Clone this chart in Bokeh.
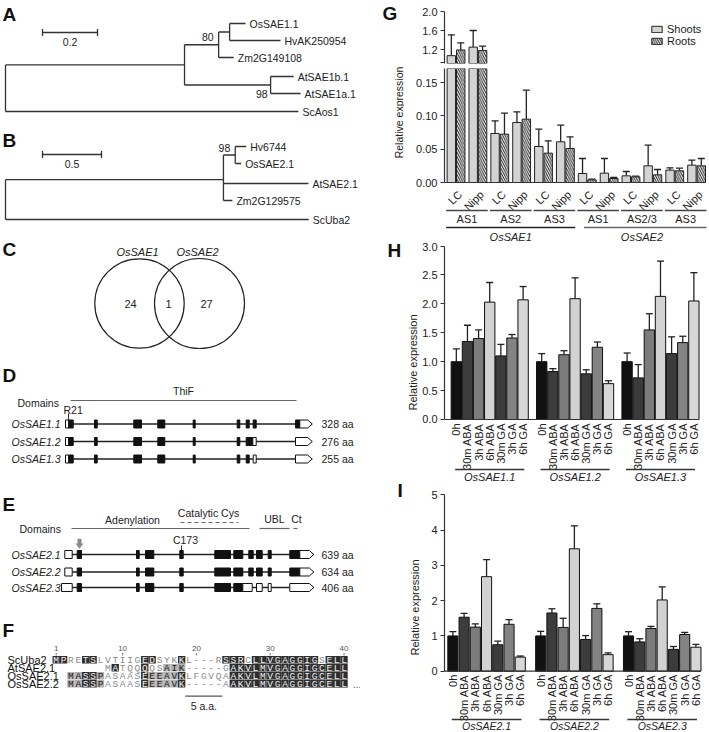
import math
from bokeh.plotting import figure
from bokeh.models import (Range1d, FixedTicker, NumeralTickFormatter, ColumnDataSource,
                          Whisker, TeeHead, Legend, LegendItem)
from bokeh.layouts import row, column
from bokeh.embed import file_html
from bokeh.resources import INLINE
from bokeh.core.properties import value

FONT = "Liberation Sans"
MONO = "Liberation Mono"
INK = "#222222"

# ======================= DATA =======================
# (A) SAE1 phylogeny: (branch length, children | leaf [, bootstrap, side])
tree_a = (0.0, [
    (0.651, [
        (0.124, [
            (0.040, [(0.058, "OsSAE1.1"), (0.185, "HvAK250954")]),
            (0.055, "Zm2G149108"),
        ], "80", "up"),
        (0.313, [(0.084, "AtSAE1b.1"), (0.109, "AtSAE1a.1")], "98", "down"),
    ]),
    (1.065, "ScAos1"),
])
tree_a_leaves = ["OsSAE1.1", "HvAK250954", "Zm2G149108", "AtSAE1b.1", "AtSAE1a.1", "ScAos1"]
tree_a_bar = 0.2
# (B) SAE2 phylogeny
tree_b = (0.0, [
    (1.847, [
        (0.100, [(0.093, "Hv6744"), (0.050, "OsSAE2.1")], "98", "up"),
        (0.720, "AtSAE2.1"),
        (0.076, "Zm2G129575"),
    ]),
    (2.570, "ScUba2"),
])
tree_b_leaves = ["Hv6744", "OsSAE2.1", "AtSAE2.1", "Zm2G129575", "ScUba2"]
tree_b_bar = 0.5

# (C) Venn
venn_sets = ["OsSAE1", "OsSAE2"]
venn_counts = [24, 1, 27]

# (D) OsSAE1 gene models: (kind, start, end); c = coding, u = UTR, a = 3' UTR arrow
d_names = ["OsSAE1.1", "OsSAE1.2", "OsSAE1.3"]
d_sizes = ["328 aa", "276 aa", "255 aa"]
d_common = [("u", 65, 68.3), ("c", 68.3, 72.7), ("c", 94, 96.7), ("c", 133.3, 141),
            ("c", 157.3, 164.3), ("c", 192.7, 194.7), ("c", 236.7, 239.3)]
d_feats = [
    d_common + [("c", 245.7, 248.7), ("c", 252.7, 255.7), ("c", 295, 299.3), ("a", 299.3, 311.7)],
    d_common + [("c", 245.7, 252.3), ("u", 252.3, 255.7), ("a", 295, 311.7)],
    d_common + [("c", 245.7, 248.7), ("u", 252.7, 255.7), ("a", 295, 311.7)],
]
# (E) OsSAE2 gene models
e_names = ["OsSAE2.1", "OsSAE2.2", "OsSAE2.3"]
e_sizes = ["639 aa", "634 aa", "406 aa"]
e_common = [("c", 76.7, 81), ("c", 136, 138.7), ("c", 145, 153.3), ("c", 179.3, 182.7),
            ("c", 214.3, 230), ("c", 233.3, 242.3)]
e_full = [("u", 64.3, 71.7)] + e_common + [("c", 248.3, 252.7), ("c", 256, 261.7), ("c", 267.7, 270.7),
                                           ("c", 289.3, 299.3), ("a", 299.3, 313.3)]
e_feats = [e_full, e_full,
           [("u", 61, 71.7)] + e_common + [("u", 242.3, 251.7), ("u", 256, 261.7), ("u", 267.7, 270.7),
                                           ("a", 289.3, 313.3)]]

# (F) alignment
f_names = ["ScUba2", "AtSAE2.1", "OsSAE2.1", "OsSAE2.2"]
f_seqs = ["MPRETSLVTIIGEDSYKKL---RSSRCLLVGAGGIGSELL",
          "       MATQQQQSAIK-----GAKVLMVGAGGIGCELL",
          "  MASSPASAASEEEAVKLFGVQAAKVLMVGAGGIGCELL",
          "  MASSPASAASEEEAVK-----AAKVLMVGAGGIGCELL"]
f_shade = ["dd..dd......dd...d.....ddd.ddddddddd.ddd",
           "       .d...d..ggg......dddddddddddddddd",
           "  ggddg.....dggggd......dddddddddddddddd",
           "  ggddg.....dggggd......dddddddddddddddd"]
f_ticks = [1, 10, 20, 30, 40]

# (G) relative expression of splice variants
g_pairs = ["LC", "Nipp"] * 6
g_groups = ["AS1", "AS2", "AS3", "AS1", "AS2/3", "AS3"]
g_genes = ["OsSAE1", "OsSAE2"]
g_shoots = [1.07, 1.25, 0.0735, 0.090, 0.054, 0.061, 0.0135, 0.014, 0.010, 0.025, 0.0185, 0.026]
g_shoots_err = [0.44, 0.35, 0.019, 0.016, 0.026, 0.025, 0.0225, 0.022, 0.0065, 0.031, 0.0035, 0.0075]
g_roots = [1.19, 1.18, 0.0725, 0.095, 0.044, 0.051, 0.004, 0.006, 0.0085, 0.0115, 0.0175, 0.025]
g_roots_err = [0.15, 0.09, 0.0315, 0.0435, 0.0185, 0.0175, 0.001, 0.0015, 0.001, 0.008, 0.004, 0.011]

# (H) / (I) hormone time courses
conditions = ["0h", "30m ABA", "3h ABA", "6h ABA", "30m GA", "3h GA", "6h GA"]
cond_colors = ["#111111", "#3c3c3c", "#7c7c7c", "#d2d2d2", "#3c3c3c", "#838383", "#d7d7d7"]
h_sets = ["OsSAE1.1", "OsSAE1.2", "OsSAE1.3"]
h_vals = [[1.00, 1.35, 1.40, 2.03, 1.10, 1.41, 2.07],
          [1.00, 0.83, 1.12, 2.09, 0.79, 1.25, 0.62],
          [1.00, 0.72, 1.55, 2.13, 1.14, 1.33, 2.05]]
h_err = [[0.22, 0.28, 0.15, 0.34, 0.20, 0.06, 0.23],
         [0.14, 0.05, 0.07, 0.36, 0.07, 0.09, 0.05],
         [0.15, 0.23, 0.28, 0.61, 0.29, 0.11, 0.49]]
i_sets = ["OsSAE2.1", "OsSAE2.2", "OsSAE2.3"]
i_vals = [[1.00, 1.53, 1.25, 2.68, 0.75, 1.33, 0.40],
          [1.00, 1.65, 1.24, 3.47, 0.90, 1.78, 0.47],
          [1.00, 0.83, 1.21, 2.02, 0.62, 1.04, 0.68]]
i_err = [[0.12, 0.11, 0.09, 0.48, 0.10, 0.13, 0.03],
         [0.13, 0.12, 0.26, 0.65, 0.11, 0.13, 0.05],
         [0.12, 0.09, 0.06, 0.37, 0.08, 0.06, 0.08]]


# ======================= HELPERS =======================
def txt(p, xs, ys, texts, size="11px", style="normal", align="left", baseline="middle",
        color=INK, font=FONT, angle=0.0):
    p.text(x=list(xs), y=list(ys), text=list(texts), text_font=value(font), text_font_size=size,
           text_font_style=style, text_align=align, text_baseline=baseline, text_color=color,
           angle=angle)


def blank(width, height, xr, yr):
    p = figure(width=width, height=height, x_range=Range1d(*xr), y_range=Range1d(*yr),
               x_axis_location=None, y_axis_location=None, toolbar_location=None,
               output_backend="svg", min_border=0, title=None)
    p.grid.grid_line_color = None
    p.outline_line_color = None
    return p


# ======================= LEFT COLUMN (A-F) =======================
left = blank(360, 732, (0, 360), (732, 0))

txt(left, [2] * 6, [13.5, 140, 249, 374.5, 503.5, 630], list("ABCDEF"), size="19px", style="bold",
    color="#111111")


def draw_tree(p, tree, leaves, rows, px_unit, x_root, bar_len, bar_y):
    leaf_y = dict(zip(leaves, rows))
    segs, labs, sups = [], [], []

    def rec(node, x0):
        bl, body = node[0], node[1]
        x = x0 + bl * px_unit
        if isinstance(body, str):
            y = leaf_y[body]
            segs.append((x0, y, x, y))
            labs.append((x + 4, y, body))
            return y
        ys = [rec(ch, x) for ch in body]
        y = sum(ys) / len(ys)
        segs.append((x, min(ys), x, max(ys)))
        if bl > 0:
            segs.append((x0, y, x, y))
        if len(node) > 2:
            if node[3] == "up":
                sups.append((x - 5, y - 7.3, node[2]))
            else:
                sups.append((x - 3, y + 8.5, node[2]))
        return y

    rec(tree, x_root)
    p.segment(x0=[s[0] for s in segs], y0=[s[1] for s in segs], x1=[s[2] for s in segs],
              y1=[s[3] for s in segs], line_color="#333333", line_width=1.3)
    txt(p, [l[0] for l in labs], [l[1] for l in labs], [l[2] for l in labs], size="10.5px")
    txt(p, [s[0] for s in sups], [s[1] for s in sups], [s[2] for s in sups], size="10.5px", align="right")
    bx0, bx1 = 42, 42 + bar_len * px_unit
    p.segment(x0=[bx0, bx0, bx1], y0=[bar_y, bar_y - 3.5, bar_y - 3.5],
              x1=[bx1, bx0, bx1], y1=[bar_y, bar_y + 3.5, bar_y + 3.5],
              line_color="#333333", line_width=1.3)
    txt(p, [(bx0 + bx1) / 2], [bar_y + 9.5], [str(bar_len)], size="10.5px", align="center")


draw_tree(left, tree_a, tree_a_leaves, [23, 40, 57, 76, 93, 111], 275, 5, tree_a_bar, 32)
draw_tree(left, tree_b, tree_b_leaves, [146, 163, 183, 200, 219], 118, 5, tree_b_bar, 154)

# (C) Venn
left.circle(x=[139, 199], y=[303, 303], radius=[44.7, 45], fill_color=None,
            line_color="#222222", line_width=1.2)
txt(left, [137, 197], [251, 251], venn_sets, size="11px", style="italic", align="center")
txt(left, [130, 168, 206], [303, 303, 303], [str(c) for c in venn_counts], size="11px", align="center")


def draw_gene(p, y, feats, h=4.0):
    x0 = min(f[1] for f in feats)
    x1 = max(f[2] for f in feats)
    p.segment(x0=[x0], y0=[y], x1=[x1], y1=[y], line_color="#222222", line_width=1.3)
    ql, qr, qc = [], [], []
    pxs, pys = [], []
    for kind, a, b in feats:
        if kind == "a":
            tip = 4.5
            pxs.append([a, b - tip, b, b - tip, a])
            pys.append([y - h, y - h, y, y + h, y + h])
        else:
            ql.append(a); qr.append(b); qc.append("#111111" if kind == "c" else "#ffffff")
    p.quad(left=ql, right=qr, top=[y - h] * len(ql), bottom=[y + h] * len(ql),
           fill_color=qc, line_color="#111111", line_width=1.0)
    if pxs:
        p.patches(xs=pxs, ys=pys, fill_color="#ffffff", line_color="#111111", line_width=1.0)


# (D)
txt(left, [17], [402.5], ["Domains"], size="10.5px")
left.segment(x0=[70], y0=[400], x1=[296], y1=[400], line_color="#666666", line_width=1.2)
txt(left, [183], [390], ["ThiF"], size="10.5px", align="center")
txt(left, [63], [409.5], ["R21"], size="10.5px")
left.segment(x0=[68], y0=[413], x1=[68], y1=[419.5], line_color="#333333", line_width=1)
d_rows = [423.5, 441, 458.5]
for yy, f in zip(d_rows, d_feats):
    draw_gene(left, yy, f)
txt(left, [60] * 3, d_rows, d_names, size="10.5px", style="italic", align="right")
txt(left, [321] * 3, d_rows, d_sizes, size="10.5px")

# (E)
txt(left, [19], [528], ["Domains"], size="10.5px")
left.segment(x0=[71, 259], y0=[528, 528], x1=[249, 289], y1=[528, 528], line_color="#666666", line_width=1.2)
left.segment(x0=[180, 293], y0=[522, 528], x1=[238, 300], y1=[522, 528], line_color="#666666",
             line_width=1.2, line_dash="4 3")
txt(left, [132, 208, 274, 296], [519, 512.7, 518, 518], ["Adenylation", "Catalytic Cys", "UBL", "Ct"],
    size="10.5px", align="center")
txt(left, [185], [539.5], ["C173"], size="10.5px", align="center")
left.segment(x0=[181], y0=[545], x1=[181], y1=[550], line_color="#333333", line_width=1)
left.patches(xs=[[77.3, 80.7, 80.7, 82.5, 79, 75.5, 77.3]], ys=[[538.5, 538.5, 543.2, 543.2, 548, 543.2, 543.2]],
             fill_color="#8a8a8a", line_color="#8a8a8a", line_width=0.5)
e_rows = [554, 571.5, 587]
for yy, f in zip(e_rows, e_feats):
    draw_gene(left, yy, f)
txt(left, [60] * 3, e_rows, e_names, size="10.5px", style="italic", align="right")
txt(left, [321] * 3, e_rows, e_sizes, size="10.5px")

# (F) alignment
COL0, COLW = 55.7, 7.38
f_rows = [659.3, 667.3, 675.3, 683.3]
ql, qr, qt, qb, qc = [], [], [], [], []
cx, cy, ct, cc = [], [], [], []
for r, (seq, sh) in enumerate(zip(f_seqs, f_shade)):
    for c, (ch, s) in enumerate(zip(seq, sh)):
        if ch == " ":
            continue
        x = COL0 + c * COLW
        if s in "dg":
            ql.append(x - COLW / 2); qr.append(x + COLW / 2)
            qt.append(f_rows[r] - 3.8); qb.append(f_rows[r] + 3.8)
            qc.append("#2e2e2e" if s == "d" else "#b3b3b3")
        cx.append(x); cy.append(f_rows[r] + 0.3); ct.append(ch)
        cc.append("#f2f2f2" if s == "d" else ("#222222" if s == "g" else "#8a8a8a"))
left.quad(left=ql, right=qr, top=qt, bottom=qb, fill_color=qc, line_color=None)
left.text(x=cx, y=cy, text=ct, text_color=cc, text_font=value(MONO), text_font_size="9.5px",
          text_align="center", text_baseline="middle")
txt(left, [7] * 4, f_rows, f_names, size="11px", color="#111111")
tick_x = [COL0 + (t - 1) * COLW for t in f_ticks]
txt(left, tick_x, [647.5] * len(f_ticks), [str(t) for t in f_ticks], size="8px", align="center",
    color="#555555")
left.segment(x0=tick_x, y0=[652.5] * 5, x1=tick_x, y1=[655] * 5, line_color="#777777", line_width=1)
txt(left, [COL0 + 40.2 * COLW], [683.3], ["..."], size="10px", color="#555555")
sb0, sb1 = COL0 + 17.5 * COLW, COL0 + 22.5 * COLW
left.segment(x0=[sb0], y0=[695.7], x1=[sb1], y1=[695.7], line_color="#555555", line_width=1.3)
txt(left, [(sb0 + sb1) / 2], [705], ["5 a.a."], size="10.5px", align="center")

# ======================= GUTTER (panel letters G-I, G axis title) =======================
gutter = blank(44, 732, (360, 404), (0, 732))   # y measured upward from page bottom
txt(gutter, [382, 387, 397], [732 - 13, 732 - 250, 732 - 490], ["G", "H", "I"], size="19px",
    style="bold", color="#111111")
txt(gutter, [398], [732 - 112], ["Relative expression"], size="10.5px", align="center",
    angle=math.pi / 2)

# ======================= RIGHT COLUMN (G-I) =======================
RW, BL = 305, 36


def bar_fig(h, xr, yr, top=0, bottom=0):
    p = figure(width=RW, height=h, x_range=Range1d(*xr), y_range=Range1d(*yr),
               x_axis_location=None, toolbar_location=None, output_backend="svg", title=None,
               min_border_left=BL, min_border_right=0, min_border_top=top, min_border_bottom=bottom)
    p.grid.grid_line_color = None
    p.outline_line_color = None
    ax = p.yaxis[0]
    ax.axis_line_color = "#333333"
    ax.axis_line_width = 1.2
    ax.major_tick_line_color = "#333333"
    ax.major_tick_line_width = 1.2
    ax.major_tick_out = 4
    ax.major_tick_in = 0
    ax.minor_tick_line_color = None
    ax.major_label_text_font = FONT
    ax.major_label_text_font_size = "11px"
    ax.major_label_text_color = INK
    ax.major_label_standoff = 3
    ax.axis_label_text_font = FONT
    ax.axis_label_text_font_size = "11px"
    ax.axis_label_text_font_style = "normal"
    ax.axis_label_text_color = INK
    return p


def whiskers(p, xs, lo, up):
    src = ColumnDataSource(dict(x=xs, lower=lo, upper=up))
    p.add_layout(Whisker(source=src, base="x", lower="lower", upper="upper", line_color="#222222",
                         line_width=1.3, lower_head=None,
                         upper_head=TeeHead(size=7, line_color="#222222", line_width=1.3)))


# ---- G (broken axis) ----
G_OFF, G_W = 0.215, 0.385
g_x = list(range(len(g_pairs)))
g_xr = (-0.527, 11.59)
G_BREAK_LO, G_BREAK_HI = 0.9053, 0.171
xs_sh = [i - G_OFF for i in g_x]
xs_rt = [i + G_OFF for i in g_x]

g_top = bar_fig(68, g_xr, (G_BREAK_LO, 2.0632), top=8, bottom=5)
g_bot = bar_fig(174, g_xr, (-0.090, G_BREAK_HI))


def g_bars(p, sel):
    rs = p.vbar(x=[xs_sh[k] for k in sel], top=[g_shoots[k] for k in sel], bottom=0, width=G_W,
                fill_color="#d3d3d3", line_color="#222222", line_width=1)
    rr = p.vbar(x=[xs_rt[k] for k in sel], top=[g_roots[k] for k in sel], bottom=0, width=G_W,
                fill_color="#ffffff", line_color="#222222", line_width=1, hatch_pattern="\\",
                hatch_color="#222222", hatch_scale=4.5, hatch_weight=1)
    return rs, rr


def g_err(p, keep):
    xs, lo, up = [], [], []
    for xx, v, e in list(zip(xs_sh, g_shoots, g_shoots_err)) + list(zip(xs_rt, g_roots, g_roots_err)):
        if keep(v):
            xs.append(xx); lo.append(v); up.append(v + e)
    whiskers(p, xs, lo, up)


tall = [k for k in g_x if max(g_shoots[k], g_roots[k]) > G_BREAK_LO]
rs, rr = g_bars(g_top, tall)
g_bars(g_bot, g_x)
g_err(g_top, lambda v: v > G_BREAK_LO)
g_err(g_bot, lambda v: v < G_BREAK_HI)

BREAK_MARK = 0.92
g_top.yaxis[0].ticker = FixedTicker(ticks=[BREAK_MARK, 1.2, 1.6, 2.0])
g_top.yaxis[0].formatter = NumeralTickFormatter(format="0.0")
g_top.yaxis[0].major_label_overrides = {BREAK_MARK: ""}
g_top.yaxis[0].bounds = (G_BREAK_LO, 2.0)
g_bot.yaxis[0].ticker = FixedTicker(ticks=[0, 0.05, 0.10, 0.15])
g_bot.yaxis[0].formatter = NumeralTickFormatter(format="0.00")
g_bot.yaxis[0].bounds = (0, G_BREAK_HI)

legend = Legend(items=[LegendItem(label="Shoots", renderers=[rs]), LegendItem(label="Roots", renderers=[rr])],
                location=(206, 16), padding=0, spacing=0, margin=0, border_line_color=None,
                background_fill_alpha=0, glyph_width=13, glyph_height=8, label_standoff=4,
                label_text_font=FONT, label_text_font_size="11px", label_text_color=INK, label_height=12)
g_top.add_layout(legend)

GU = 0.05 / 33.33     # value per reference px in lower G panel
g_bot.segment(x0=[g_xr[0]], y0=[0], x1=[g_x[-1] + G_OFF + G_W / 2], y1=[0], line_color="#333333", line_width=1.2)
txt(g_bot, [i + 0.18 for i in g_x], [-10 * GU] * len(g_x), g_pairs, angle=math.pi / 4, align="right")
grp_c = [2 * k + 0.5 for k in range(len(g_groups))]
g_bot.segment(x0=[2 * k - 0.45 for k in range(6)], y0=[-28 * GU] * 6,
              x1=[2 * k + 1.45 for k in range(6)], y1=[-28 * GU] * 6, line_color="#444444", line_width=1.4)
txt(g_bot, grp_c, [-36 * GU] * 6, g_groups, align="center")
g_bot.segment(x0=[-0.45, 5.85], y0=[-45 * GU] * 2, x1=[5.45, 11.45], y1=[-45 * GU] * 2,
              line_color=["#222222", "#666666"], line_width=1.4)
txt(g_bot, [2.5, 8.5], [-54 * GU] * 2, g_genes, style="italic", align="center")


# ---- H and I ----
def hormone_panel(h, xr, yr, gpitch, vals, errs, sets, ticks, fmt, bounds, px_per_unit,
                  lab_gap, line_px, set_px, standoff, bw, set_size):
    p = bar_fig(h, xr, yr)
    xs, tops, cols, ers = [], [], [], []
    for g, (vv, ee) in enumerate(zip(vals, errs)):
        for j, (v, e) in enumerate(zip(vv, ee)):
            xs.append(g * gpitch + j); tops.append(v); cols.append(cond_colors[j]); ers.append(v + e)
    p.vbar(x=xs, top=tops, bottom=0, width=bw, fill_color=cols, line_color="#111111", line_width=1)
    whiskers(p, xs, tops, ers)
    p.segment(x0=[xr[0]], y0=[0], x1=[xs[-1] + bw / 2], y1=[0], line_color="#333333", line_width=1.2)
    txt(p, xs, [-lab_gap / px_per_unit] * len(xs), conditions * len(vals), angle=math.pi / 2, align="right")
    n = len(vals)
    p.segment(x0=[g * gpitch - 0.1 for g in range(n)], y0=[-line_px / px_per_unit] * n,
              x1=[g * gpitch + 6.1 for g in range(n)], y1=[-line_px / px_per_unit] * n,
              line_color="#333333", line_width=1.4)
    txt(p, [g * gpitch + 3 for g in range(n)], [-set_px / px_per_unit] * n, sets, style="italic",
        align="center", size=set_size)
    ax = p.yaxis[0]
    ax.ticker = FixedTicker(ticks=ticks)
    ax.formatter = NumeralTickFormatter(format=fmt)
    ax.bounds = bounds
    ax.axis_label = "Relative expression"
    ax.axis_label_standoff = standoff
    return p


h_fig = hormone_panel(240, (-1.062, 22.743), (-1.090, 3.062), 7.67, h_vals, h_err, h_sets,
                      [0, 0.5, 1.0, 1.5, 2.0, 2.5, 3.0], "0.0", (0, 3), 57.8,
                      4, 50, 57.5, 0, 0.93, "11px")
i_fig = hormone_panel(250, (-0.746, 22.851), (-1.7375, 5.349), 7.82, i_vals, i_err, i_sets,
                      [0, 1, 2, 3, 4, 5], "0", (0, 5), 35.28,
                      3.5, 48.3, 54.3, 7, 0.9, "10.5px")

layout = row(left, gutter, column(g_top, g_bot, h_fig, i_fig))
open("out.html", "w").write(file_html(layout, INLINE))
